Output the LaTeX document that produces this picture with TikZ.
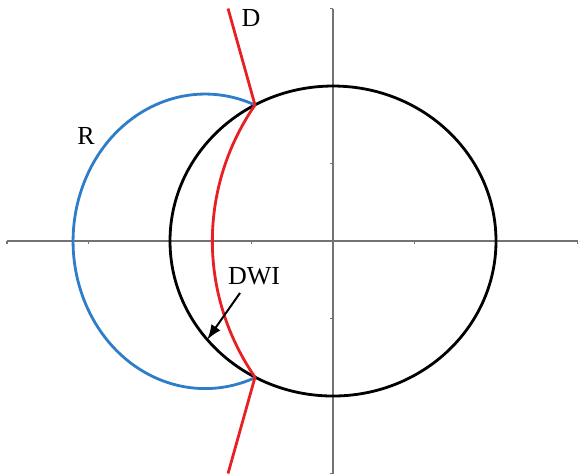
\documentclass[tikz,border=0pt]{standalone}
\usepackage{fontspec}
\setmainfont{Liberation Serif}
\usetikzlibrary{arrows.meta}
\definecolor{relayblue}{RGB}{45,125,200}
\definecolor{relayred}{RGB}{232,32,36}
\begin{document}
\begin{tikzpicture}[
		x=81.5pt, y=77.5pt,
		axis/.style={draw=black!55, line width=1.4pt},
		zone/.style={line width=2.8pt},
		lbl/.style={inner sep=0pt, font=\fontsize{26}{31}\selectfont},
		arrow/.style={-{Latex[length=15pt,width=11pt]}, line width=2pt},
	]
	\useasboundingbox (-4.086,-3.019) rectangle (3.006,3.110);

	% axes with small ticks
	\draw[axis] (-4,0) -- (3,0);
	\draw[axis] (0,-3) -- (0,3);
	\foreach \i in {-4,...,3}
		\draw[axis] (\i,0) -- ++(0,-3pt);
	\foreach \j in {-3,...,3}
		\draw[axis] (0,\j) -- ++(-3pt,0);

	% crossing points of the curves
	\coordinate (top) at (-0.957,1.755);
	\coordinate (bot) at (-0.957,-1.755);
	\coordinate (dtop) at (-1.288,3.0);
	\coordinate (dbot) at (-1.288,-3.0);
	\coordinate (tip) at (219.5:2);

	% characteristics
	\draw[zone] (0,0) circle [x radius=2, y radius=2];
	\draw[zone, relayblue] (top) arc [start angle=67.8, end angle=292.2, x radius=1.62, y radius=1.9];
	\draw[zone, relayred] (dtop) -- (top) arc [start angle=146.8, end angle=213.2, radius=3.207] -- (dbot);

	\node[lbl] (d) at (-1.006,2.877) {D};
	\node[lbl] (r) at (-3.031,1.355) {R};
	\node[lbl] (dwi) at (-0.969,-0.452) {DWI};

	\draw[arrow] ([xshift=-14pt, yshift=-8pt]dwi.south) -- (tip);
\end{tikzpicture}
\end{document}
